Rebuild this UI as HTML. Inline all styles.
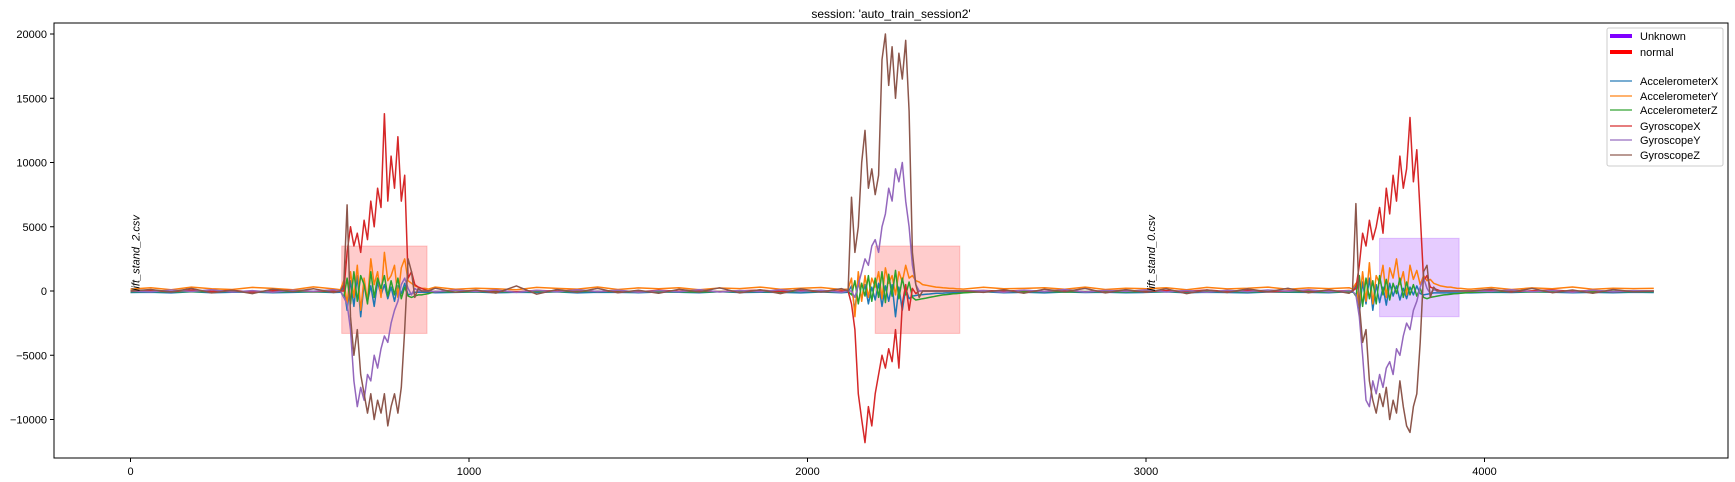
<!DOCTYPE html>
<html><head><meta charset="utf-8"><style>
html,body{margin:0;padding:0;background:#fff;}
svg{display:block;font-family:"Liberation Sans",sans-serif;}
</style></head><body>
<svg id="chart" width="1735" height="482" viewBox="0 0 1735 482" xmlns="http://www.w3.org/2000/svg">
<text x="891" y="18" font-size="12" text-anchor="middle">session: 'auto_train_session2'</text>
<g id="shades"></g>
<g id="series"></g>
<g id="axes"></g>
<g id="labels"></g>
<g id="legend"></g>
</svg>
<script>
const xTicks=[0,1000,2000,3000,4000];
const yTicks=[-10000,-5000,0,5000,10000,15000,20000];
const seriesNames=["AccelerometerX","AccelerometerY","AccelerometerZ","GyroscopeX","GyroscopeY","GyroscopeZ"];
const seriesColors=["#1f77b4","#ff7f0e","#2ca02c","#d62728","#9467bd","#8c564b"];
const regionStart=[624,2200,3690];
const regionEnd=[876,2450,3925];
const regionTop=[3500,3500,4100];
const regionBottom=[-3300,-3300,-2000];
const regionLabel=["normal","normal","Unknown"];
const fileNames=["lift_stand_2.csv","lift_stand_0.csv"];
const fileStart=[0,3000];
// quiet baseline, step 60 from 0
const quietStep=60;
const quietX_=[-120,-90,-150,-60,-130,-100,-80,-140,-110,-70,-120,-90,-150,-100,-60,-130,-110,-80,-140,-100,-120,-70,-150,-90,-110,-130,-80,-100,-140,-60,-120,-90,-110,-150,-80,-130,-100,-70,-120,-140,-90,-110,-60,-130,-100,-150,-80,-120,-90,-140,-110,-70,-130,-100,-120,-150,-80,-90,-110,-140,-60,-120,-100,-130,-80,-110,-150,-90,-120,-70,-100,-140,-110,-130,-90,-120];
const quietY_=[150,250,100,300,180,120,280,200,90,320,160,240,110,260,190,300,130,220,170,90,280,200,150,310,120,240,180,260,100,230,190,300,140,210,270,120,250,180,320,150,230,110,290,170,200,260,140,300,120,220,180,250,100,280,160,210,300,130,240,190,260,110,230,170,290,150,200,270,120,240,180,310,140,220,190,200];
const quietZ_=[-50,-30,-70,-40,-60,-20,-50,-80,-30,-60,-40,-70,-20,-50,-60,-30,-80,-40,-50,-70,-30,-60,-40,-20,-50,-70,-30,-60,-80,-40,-50,-30,-70,-20,-60,-40,-50,-80,-30,-60,-40,-70,-50,-20,-60,-30,-80,-40,-50,-70,-30,-60,-40,-50,-20,-70,-30,-60,-40,-80,-50,-30,-60,-40,-70,-20,-50,-60,-30,-80,-40,-50,-70,-30,-60,-50];
const quietGX=[0,40,-60,80,-30,50,-80,20,60,-40,30,-70,90,-20,40,-50,70,-30,20,-60,50,-10,80,-40,30,-70,60,-20,40,-50,20,70,-30,50,-60,10,80,-40,30,-20,60,-70,40,-10,50,-30,70,-60,20,40,-50,30,-20,80,-40,60,-70,10,50,-30,40,-60,20,70,-20,30,-50,60,-40,10,80,-30,50,-60,20,0];
const quietGY=[0,-60,80,-40,100,-80,30,-100,60,-20,90,-70,40,-90,120,-50,70,-30,80,-110,50,-60,100,-40,70,-90,30,-60,110,-80,40,-50,90,-30,60,-100,80,-20,50,-70,100,-60,30,-90,70,-40,120,-80,50,-30,90,-70,40,-100,60,-50,80,-20,100,-60,30,-90,70,-40,110,-80,50,-30,90,-60,40,-100,70,-50,30,0];
const quietGZ=[0,120,-80,200,-150,60,-200,150,-50,180,-120,90,-180,140,-60,220,-100,80,-160,400,-250,120,-90,200,-140,60,-180,130,-70,250,-150,100,-200,160,-80,190,-130,70,-220,150,-60,180,-110,90,-170,140,-50,200,-150,110,-90,170,-200,80,-120,160,-60,210,-140,100,-180,130,-70,190,-110,60,-160,150,-90,200,-130,80,-170,120,-60,0];
// burst 1 (step 10 from 620)
const b1Start=620;
const b1X_=[-100,300,-1500,800,-1200,1200,-2000,600,-800,400,-1200,700,-300,500,-600,300,-800,400,-200,600,-300,-200,-100,-100,-100,-100,-100];
const b1Y_=[100,800,-1000,1500,-500,2000,-1500,1000,-800,2500,500,1500,-500,3000,800,1200,2000,-500,1800,2500,800,600,400,300,200,200,150];
const b1Z_=[0,-500,1000,-1000,1500,-800,1200,500,-1000,1500,-500,1000,200,1200,-400,800,-300,1000,-600,300,-400,-500,-400,-300,-300,-250,-200];
const b1GX=[0,0,3000,5000,3500,4500,3000,5500,4000,7000,5000,8000,6500,13800,7000,10500,8000,12000,7000,9000,1000,1500,500,300,200,100,0];
const b1GY=[0,-500,-1000,-3000,-7000,-9000,-7500,-8500,-6500,-7000,-5000,-6000,-4500,-3500,-4000,-2500,-1500,-800,500,1000,200,-300,200,0,0,0,0];
const b1GZ=[0,500,6700,-2000,-5000,-3000,-6500,-8000,-9500,-8000,-10000,-8500,-9500,-8000,-10500,-9000,-8000,-9500,-7500,-3000,2500,1500,-500,200,0,0,0];
// burst 2 (step 10 from 2120)
const b2Start=2120;
const b2X_=[-100,400,-1500,800,-600,500,-1000,300,-700,600,-1200,400,-800,500,-2000,300,-1500,200,-600,-400,-350,-300,-280,-250,-230,-200,-180,-170,-160,-150,-150,-140,-130,-120,-120];
const b2Y_=[150,1000,-2000,1500,-800,1200,-500,1000,300,1500,-600,1800,600,1200,-300,1500,700,2000,1000,1200,800,700,500,450,400,350,300,280,250,230,200,200,180,160,150];
const b2Z_=[0,-300,800,-1000,600,-400,1200,-800,1000,-500,1500,-900,1300,-400,1600,-600,1000,-300,700,-500,-700,-650,-600,-550,-500,-450,-400,-350,-300,-280,-250,-220,-200,-180,-150];
const b2GX=[0,-1000,-3000,-8000,-10000,-11800,-9000,-10500,-8000,-6500,-5000,-6000,-4500,-5500,-3000,-6000,-1000,500,-1500,200,-200,0,0,0,0,0,0,0,0,0,0,0,0,0,0];
const b2GY=[0,0,-500,500,1500,2500,2000,3500,4000,3000,5000,6000,8000,7000,9500,8500,10000,7000,5000,2000,500,0,0,0,0,0,0,0,0,0,0,0,0,0,0];
const b2GZ=[0,7300,3000,5000,10000,12500,8000,9500,7500,9000,18000,20000,16000,19000,15000,18500,16500,19500,14000,3000,500,-500,0,0,0,0,0,0,0,0,0,0,0,0,0];
// burst 3 (step 10 from 3610)
const b3Start=3610;
const b3X_=[-100,500,-1800,700,-1000,1000,-1500,500,-900,300,-1100,600,-400,400,-700,200,-600,300,-300,400,-200,-300,-250,-200,-150,-150,-150,-150,-150,-150,-150,-150,-150,-150,-150,-150];
const b3Y_=[150,600,-1200,1500,-800,2200,-1000,1200,600,2000,-500,1800,1000,2500,500,1500,-300,2000,900,1600,500,1200,800,900,600,500,400,350,300,300,250,200,200,180,150,150];
const b3Z_=[0,-400,1200,-1200,1000,-600,800,-1000,1200,-300,900,-700,600,-200,1000,-500,700,-300,500,-400,200,-500,-600,-500,-450,-400,-350,-300,-280,-250,-220,-200,-180,-150,-120,-100];
const b3GX=[0,200,2000,4500,3500,5500,4000,5000,6500,4500,8000,6000,9000,7000,10500,8000,9500,13500,8500,11000,6000,800,1200,300,200,100,0,0,0,0,0,0,0,0,0,0];
const b3GY=[0,-300,-2000,-5000,-8500,-9000,-7000,-8000,-6500,-7500,-6000,-5500,-6500,-4500,-5000,-3500,-2500,-3000,-1500,-800,300,1000,200,-200,100,0,0,0,0,0,0,0,0,0,0,0];
const b3GZ=[0,6800,-1000,-4000,-3000,-7000,-8500,-9500,-8000,-9000,-7500,-10000,-8500,-9500,-7000,-9000,-10500,-11000,-9000,-8000,-4000,1500,2000,-500,300,0,0,0,0,0,0,0,0,0,0,0];

const NS="http://www.w3.org/2000/svg";
const L=54,R=1728,T=23,B=458;
function xs(v){return 130.5+v*0.3385;}
function ys(v){return 291-v*0.01285;}
function mk(tag,attrs,parent){const e=document.createElementNS(NS,tag);for(const k in attrs)e.setAttribute(k,attrs[k]);parent.appendChild(e);return e;}

const shades=document.getElementById('shades');
for(let i=0;i<regionStart.length;i++){
  const c=regionLabel[i]==="normal"?"#ff0000":"#8000ff";
  const r=mk('rect',{x:xs(regionStart[i]),y:ys(regionTop[i]),width:xs(regionEnd[i])-xs(regionStart[i]),height:ys(regionBottom[i])-ys(regionTop[i]),fill:c,'fill-opacity':0.2,stroke:c,'stroke-opacity':0.2},shades);
  
  
}

const quiet=[quietX_,quietY_,quietZ_,quietGX,quietGY,quietGZ];
const b1=[b1X_,b1Y_,b1Z_,b1GX,b1GY,b1GZ];
const b2=[b2X_,b2Y_,b2Z_,b2GX,b2GY,b2GZ];
const b3=[b3X_,b3Y_,b3Z_,b3GX,b3GY,b3GZ];
const bursts=[[b1Start,b1],[b2Start,b2],[b3Start,b3]];
const sg=document.getElementById('series');
for(let s=0;s<6;s++){
  let pts=[];
  const ranges=bursts.map(b=>[b[0],b[0]+(b[1][s].length-1)*10]);
  quiet[s].forEach((v,i)=>{const ix=i*quietStep; if(!ranges.some(r=>ix>=r[0]-5&&ix<=r[1]+5))pts.push([ix,v]);});
  bursts.forEach(b=>b[1][s].forEach((v,i)=>pts.push([b[0]+i*10,v])));
  pts.sort((a,b)=>a[0]-b[0]);
  const d=pts.map((p,i)=>(i?'L':'M')+xs(p[0]).toFixed(1)+' '+ys(p[1]).toFixed(1)).join(' ');
  const p=mk('path',{d:d,fill:'none',stroke:seriesColors[s],'stroke-width':1.5,'stroke-linejoin':'round'},sg);
  
  
}

const ax=document.getElementById('axes');
const frame=mk('rect',{x:L,y:T,width:R-L,height:B-T,fill:'none',stroke:'#000','stroke-width':1},ax);


xTicks.forEach(v=>{
  mk('line',{x1:xs(v),x2:xs(v),y1:B,y2:B+4,stroke:'#000'},ax);
  const t=mk('text',{x:xs(v),y:B+17,'font-size':11,'text-anchor':'middle'},ax);
  t.textContent=v;
  
  
});
yTicks.forEach(v=>{
  mk('line',{x1:L-4,x2:L,y1:ys(v),y2:ys(v),stroke:'#000'},ax);
  const t=mk('text',{x:L-7,y:ys(v)+4,'font-size':11,'text-anchor':'end'},ax);
  t.textContent=v<0?'\u2212'+(-v):v;
  
  
});

const lb=document.getElementById('labels');
fileNames.forEach((n,i)=>{
  const x=xs(fileStart[i])+9;
  const t=mk('text',{x:x,y:291,'font-size':11,'font-style':'italic',transform:'rotate(-90 '+x+' 291)'},lb);
  t.textContent=n;
  
  
});

const lg=document.getElementById('legend');
mk('rect',{x:1607,y:28,width:116,height:138,rx:2,fill:'#fff','fill-opacity':0.85,stroke:'#ccc'},lg);
const legNames=["Unknown","normal"].concat(seriesNames);
const legColors=["#8000ff","#ff0000"].concat(seriesColors);
const legY=[36,52,81,96,110,126,140,155];
legNames.forEach((n,i)=>{
  const g=mk('g',{},lg);
  
  
  mk('line',{x1:1610,x2:1632,y1:legY[i],y2:legY[i],stroke:legColors[i],'stroke-width':i<2?4:1.5,'stroke-opacity':i<2?1:0.8},g);
  const t=mk('text',{x:1640,y:legY[i]+4,'font-size':11},g);
  t.textContent=n;
});
</script>
</body></html>
